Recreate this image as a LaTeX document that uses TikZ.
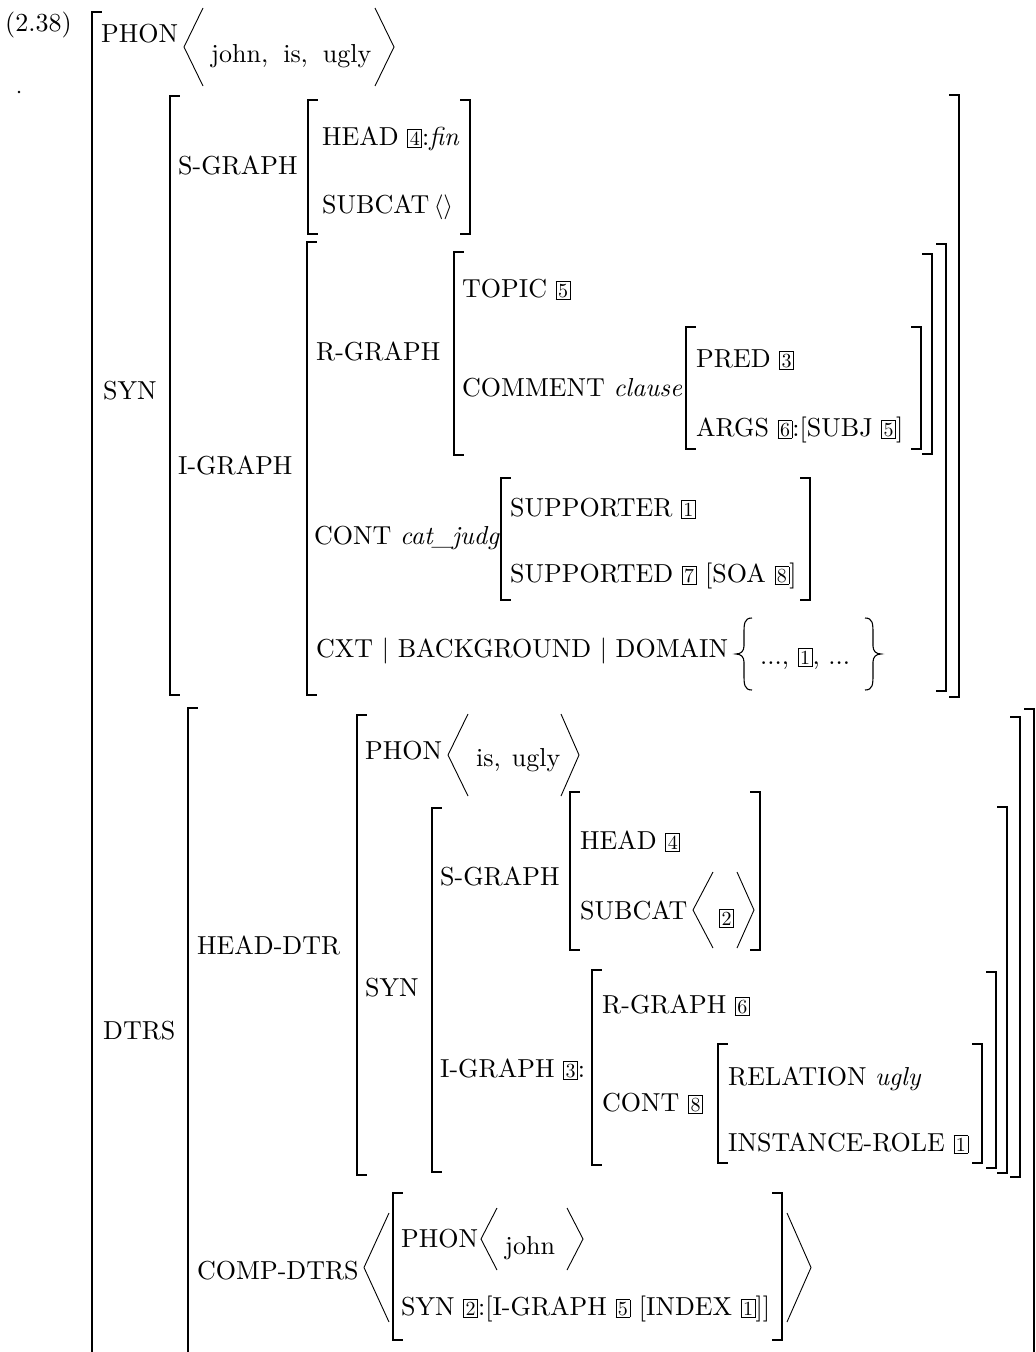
\documentclass[tikz,border=0pt]{standalone}
\usepackage{fontspec}
\setmainfont{lmroman10}[Extension=.otf,UprightFont=*-regular,ItalicFont=*-italic,BoldFont=*-bold,BoldItalicFont=*-bolditalic]
\newcommand\tg[1]{{\setlength\fboxsep{1.6pt}\setlength\fboxrule{0.8pt}\fbox{\fontsize{20}{20}\selectfont#1}}}
\newcommand\LBr[3]{\draw[brk] ({#1+9},#2) -- (#1,#2) -- (#1,#3) -- ({#1+9},#3);}
\newcommand\RBr[3]{\draw[brk] ({#1-9},#2) -- (#1,#2) -- (#1,#3) -- ({#1-9},#3);}
\newcommand\Ang[4]{\draw[ang] (#2,#3) -- (#1,{(#3+#4)/2}) -- (#2,#4);}
\begin{document}
\begin{tikzpicture}[x=1pt,y=-1pt,
  lab/.style={anchor=base west,inner sep=0pt,font=\fontsize{26}{30}\selectfont},
  brk/.style={line width=1.3pt,line cap=rect},
  ang/.style={line width=0.9pt},
  brc/.style={line width=1.1pt}]
\fill[white] (0,0) rectangle (1036,1352);
\useasboundingbox (0,0) rectangle (1036,1352);
\clip (0,0) rectangle (1036,1352);
% ---------- top level ----------
\node[lab] (num) at (5,31) {(2.38)};
\fill (19,92) circle (1.3);
\LBr{92}{12}{1400}
\node[lab] (phon) at (101,42) {PHON};
\Ang{184}{203}{8}{86}
\node[lab] (phonv) at (211,62) {john,\hspace{15pt}is,\hspace{15pt}ugly};
\Ang{394}{375}{8}{86}
% ---------- SYN ----------
\node[lab] (syn) at (103,399) {SYN};
\LBr{170}{96}{695}
\RBr{959}{95}{697}
\node[lab] (sg) at (178,174) {S-GRAPH};
\LBr{308}{100}{234}
\RBr{470}{100}{234}
\node[lab] (head) at (322,145) {HEAD \tg{4}:\textit{fin}};
\node[lab] (subcat) at (322,213) {SUBCAT\,$\langle\rangle$};
\node[lab] (ig) at (178,474) {I-GRAPH};
\LBr{307}{242}{695}
\RBr{946}{244}{691}
\node[lab] (rg) at (316,360) {R-GRAPH};
\LBr{454}{252}{455}
\RBr{932}{254}{454}
\node[lab] (topic) at (462,297) {TOPIC \tg{5}};
\node[lab] (comment) at (462,396) {COMMENT \textit{clause}};
\LBr{686}{327}{449}
\RBr{921}{327}{449}
\node[lab] (pred) at (696,367) {PRED \tg{3}};
\node[lab] (args) at (696,436) {ARGS \tg{6}:[SUBJ \tg{5}]};
\node[lab] (cont) at (314,544) {CONT \textit{cat\_judg}};
\LBr{501}{478}{600}
\RBr{810}{478}{600}
\node[lab] (supporter) at (510,516) {SUPPORTER \tg{1}};
\node[lab] (supported) at (510,582) {SUPPORTED \tg{7} [SOA \tg{8}]};
\node[lab] (cxt) at (316,657) {CXT \textbar{} BACKGROUND \textbar{} DOMAIN};
\draw[brc] (752,618) .. controls (744,618) and (744,624) .. (744,634) -- (744,646)
  .. controls (744,651) and (741,654) .. (736,654) .. controls (741,654) and (744,657) .. (744,662)
  -- (744,674) .. controls (744,684) and (744,690) .. (752,690);
\node[lab] (dom) at (760,664) {..., \tg{1}, ...};
\draw[brc] (865,618) .. controls (873,618) and (873,624) .. (873,634) -- (873,646)
  .. controls (873,651) and (876,654) .. (881,654) .. controls (876,654) and (873,657) .. (873,662)
  -- (873,674) .. controls (873,684) and (873,690) .. (865,690);
% ---------- DTRS ----------
\node[lab] (dtrs) at (103,1039) {DTRS};
\LBr{188}{708}{1400}
\RBr{1034}{709}{1400}
\node[lab] (hd) at (197,954) {HEAD-DTR};
\LBr{357}{715}{1175}
\RBr{1020}{717}{1177}
\node[lab] (hphon) at (365,759) {PHON};
\Ang{448}{468}{714}{796}
\node[lab] (hphonv) at (476,766) {is,\hspace{11pt}ugly};
\Ang{579}{561}{714}{796}
\node[lab] (hsyn) at (365,996) {SYN};
\LBr{432}{808}{1172}
\RBr{1007}{807}{1173}
\node[lab] (hsg) at (440,885) {S-GRAPH};
\LBr{570}{792}{950}
\RBr{760}{792}{950}
\node[lab] (hhead) at (580,849) {HEAD \tg{4}};
\node[lab] (hsub) at (580,919) {SUBCAT};
\Ang{693}{713}{872}{948}
\node[lab] (hsubv) at (719,925) {\tg{2}};
\Ang{754}{737}{872}{948}
\node[lab] (hig) at (440,1077) {I-GRAPH \tg{3}:};
\LBr{592}{970}{1165}
\RBr{996}{972}{1168}
\node[lab] (hrg) at (602,1013) {R-GRAPH \tg{6}};
\node[lab] (hcont) at (602,1111) {CONT \tg{8}};
\LBr{718}{1044}{1163}
\RBr{982}{1044}{1163}
\node[lab] (rel) at (728,1085) {RELATION \textit{ugly}};
\node[lab] (inst) at (728,1151) {INSTANCE-ROLE \tg{1}};
\node[lab] (comp) at (197,1279) {COMP-DTRS};
\Ang{364}{389}{1213}{1322}
\LBr{393}{1193}{1340}
\RBr{782}{1193}{1340}
\Ang{811}{787}{1213}{1322}
\node[lab] (cphon) at (401,1247) {PHON};
\Ang{481}{497}{1208}{1270}
\node[lab] (cphonv) at (505,1254) {john};
\Ang{583}{567}{1208}{1270}
\node[lab] (csyn) at (401,1315) {SYN \tg{2}:[I-GRAPH \tg{5} [INDEX \tg{1}]]};
\end{tikzpicture}
\end{document}
